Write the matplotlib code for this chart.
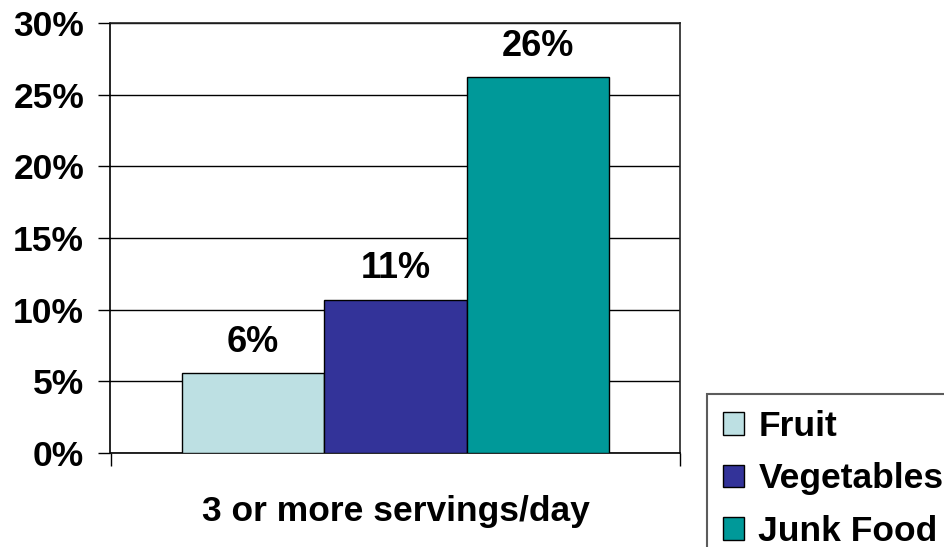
import numpy as np
import matplotlib.pyplot as plt
from matplotlib.ticker import FuncFormatter, FixedLocator

plt.rcParams['font.family'] = ['Liberation Sans', 'DejaVu Sans']
plt.rcParams['font.weight'] = 'bold'

categories = ['3 or more servings/day']
series = ['Fruit', 'Vegetables', 'Junk Food']
values = [5.55, 10.65, 26.2]
colors = ['#BDE0E3', '#333399', '#009999']

fig = plt.figure(figsize=(9.45, 5.47), dpi=100)
ax = fig.add_axes([110.5 / 945, 1 - 453 / 547, (680.5 - 110.5) / 945, (453 - 23) / 547])

width = 0.25
offsets = [-0.25, 0, 0.25]
for name, val, col, off in zip(series, values, colors, offsets):
    bars = ax.bar(0 + off, val, width, color=col, edgecolor='black', linewidth=1.0,
                  label=name, zorder=3)
    ax.bar_label(bars, labels=[f'{val:.0f}%'], padding=10, fontsize=26,
                 fontweight='bold')

ax.set_xlim(-0.5, 0.5)
ax.set_ylim(0, 30)
ax.set_yticks(np.arange(0, 31, 5))
ax.yaxis.set_major_formatter(FuncFormatter(lambda v, p: f'{v:.0f}%'))
ax.grid(axis='y', color='black', linewidth=1.0, zorder=0)
ax.tick_params(axis='y', length=9, width=1, pad=10, labelsize=25.5)

ax.set_xticks([0])
ax.set_xticklabels(categories, fontsize=25.5, fontweight='bold')
ax.xaxis.set_minor_locator(FixedLocator([-0.5, 0.5]))
ax.tick_params(axis='x', which='major', length=0, pad=30)
ax.tick_params(axis='x', which='minor', length=9, width=1)

for s in ['left', 'bottom']:
    ax.spines[s].set_color('black')
    ax.spines[s].set_linewidth(1.2)
for s in ['top', 'right']:
    ax.spines[s].set_color('#222222')
    ax.spines[s].set_linewidth(1.2)

leg = fig.legend(loc='upper left', bbox_to_anchor=(707 / 945, 1 - 394 / 547),
                 fontsize=25.5, frameon=True, fancybox=False, edgecolor='#333333',
                 handlelength=0.6, handleheight=0.6, handletextpad=0.4,
                 labelspacing=0.55, borderpad=0.45, borderaxespad=0)
leg.get_frame().set_linewidth(1.5)
for t in leg.get_texts():
    t.set_fontweight('bold')

fig.savefig('out.png', dpi=100)
